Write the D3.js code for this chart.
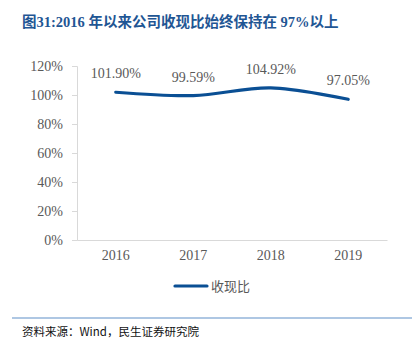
<!DOCTYPE html>
<html>
<head>
<meta charset="utf-8">
<script src="https://cdn.jsdelivr.net/npm/d3@7"></script>
<style>
  html, body { margin: 0; padding: 0; background: #fff; }
  svg { display: block; }
</style>
</head>
<body>
<svg id="chart" width="420" height="351"></svg>
<script>
// ---- data ----
const years = ['2016', '2017', '2018', '2019'];
const ratio = [101.90, 99.59, 104.92, 97.05];
const yTicks = [0, 20, 40, 60, 80, 100, 120];
const seriesName = '收现比';
const titleText = '图31:2016 年以来公司收现比始终保持在 97%以上';
const sourceText = '资料来源：Wind，民生证券研究院';

const svg = d3.select('#chart');
const M = { top: 66, right: 33, bottom: 111, left: 77 };
const W = 420, H = 351;

const x = d3.scaleBand().domain(years).range([M.left, W - M.right]);
const y = d3.scaleLinear().domain([0, 120]).range([H - M.bottom, M.top]);
const cx = d => x(d) + x.bandwidth() / 2;

// title
svg.append('text')
  .attr('x', 22).attr('y', 27)
  .attr('font-family', '"Liberation Serif", "Noto Sans CJK SC", serif')
  .attr('font-weight', 'bold').attr('font-size', 14.5)
  .attr('fill', '#1f5694')
  .text(titleText);

// y axis
const yAxis = svg.append('g')
  .attr('transform', `translate(${M.left},0)`)
  .call(d3.axisLeft(y).tickValues(yTicks).tickSize(5).tickPadding(9).tickFormat(d => d + '%'));
yAxis.select('.domain').attr('stroke', '#d9d9d9');
yAxis.selectAll('.tick line').attr('stroke', '#d9d9d9');
yAxis.selectAll('.tick text')
  .attr('font-family', '"Liberation Serif", serif').attr('font-size', 14).attr('fill', '#595959');

// x axis
const xAxis = svg.append('g')
  .attr('transform', `translate(0,${y(0)})`)
  .call(d3.axisBottom(x).tickSize(0).tickPadding(10));
xAxis.select('.domain').attr('stroke', '#d9d9d9');
xAxis.selectAll('.tick text')
  .attr('font-family', '"Liberation Serif", serif').attr('font-size', 14).attr('fill', '#595959');

// line
const pts = years.map((yr, i) => ({ yr, v: ratio[i] }));
const line = d3.line().x(d => cx(d.yr)).y(d => y(d.v)).curve(d3.curveCatmullRom.alpha(0.5));
svg.append('path').datum(pts)
  .attr('fill', 'none').attr('stroke', '#0a4f94').attr('stroke-width', 3.2)
  .attr('stroke-linecap', 'round')
  .attr('d', line);

// data labels
svg.selectAll('.lbl').data(pts).enter().append('text')
  .attr('class', 'lbl')
  .attr('x', d => cx(d.yr)).attr('y', d => y(d.v) - 14)
  .attr('text-anchor', 'middle')
  .attr('font-family', '"Liberation Serif", serif').attr('font-size', 14).attr('fill', '#595959')
  .text(d => d.v.toFixed(2) + '%');

// legend
const lg = svg.append('g').attr('transform', 'translate(175,286)');
lg.append('line').attr('x1', 0).attr('x2', 32).attr('y1', 0).attr('y2', 0)
  .attr('stroke', '#0a4f94').attr('stroke-width', 3.2).attr('stroke-linecap', 'round');
lg.append('text').attr('x', 36).attr('y', 5)
  .attr('font-family', '"Noto Sans CJK SC", sans-serif').attr('font-size', 13).attr('fill', '#595959')
  .text(seriesName);

// source rule + text
svg.append('line').attr('x1', 12).attr('x2', 412).attr('y1', 318).attr('y2', 318)
  .attr('stroke', '#5e8fc8').attr('stroke-width', 1.2);
svg.append('text')
  .attr('x', 22).attr('y', 336)
  .attr('font-family', '"Noto Sans CJK SC", sans-serif').attr('font-size', 11.5).attr('fill', '#111')
  .text(sourceText);
</script>
</body>
</html>
